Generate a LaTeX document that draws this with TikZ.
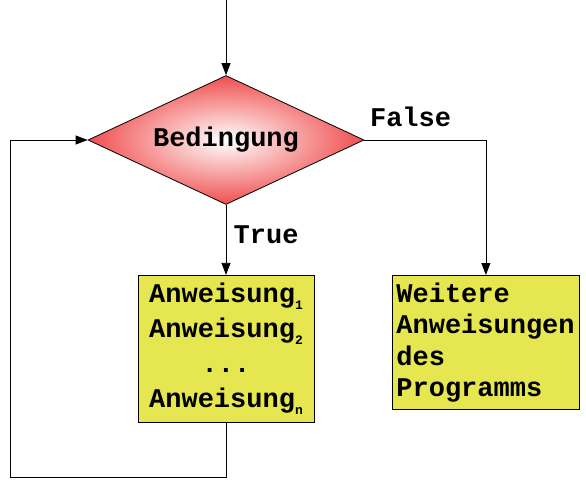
\documentclass[tikz,border=0pt]{standalone}
\usepackage{fontspec}
\setmonofont{Liberation Mono}
\usetikzlibrary{arrows.meta,positioning,shapes.geometric}
\definecolor{condred}{RGB}{240,78,78}
\definecolor{boxyellow}{RGB}{230,230,80}
\newcommand{\idx}[1]{\raisebox{-0.45ex}{\fontsize{13}{13}\selectfont #1}}

\begin{document}
\begin{tikzpicture}[
  x=1pt, y=-1pt,
  txt/.style={font=\ttfamily\bfseries\fontsize{27}{31.5}\selectfont},
  cond/.style={diamond, draw, line width=0.8pt, inner sep=0pt, aspect=2.14,
               minimum width=276pt, minimum height=129pt,
               shading=radial, inner color=white, outer color=condred, txt},
  stmt/.style={rectangle, draw, line width=0.8pt, fill=boxyellow, txt},
  arr/.style={-{Triangle[length=12pt, width=9pt]}, line width=0.8pt}
]
\useasboundingbox (0,0) rectangle (586,481);

\node[cond] (bed) at (226,140) {Bedingung};
\node[stmt, below=70pt of bed, minimum width=176pt, minimum height=147pt,
      align=center, font=\ttfamily\bfseries\fontsize{27}{35}\selectfont] (body)
  {Anweisung\idx{1}\\Anweisung\idx{2}\\...\\Anweisung\idx{n}};
\node[stmt, anchor=north west, minimum width=187pt, minimum height=134pt,
      text width=179pt, inner xsep=4pt, align=left] (rest) at (392,275)
  {Weitere\\Anweisungen\\des\\Programms};

\coordinate (entry) at (226,0);
\coordinate (back) at (10,477);

\draw[arr] (entry) -- (bed.north);
\draw[arr] (bed.south) -- node[right=4pt, txt, pos=0.42] {True} (body.north);
\draw[arr] (bed.east) -| node[above=10pt, txt, pos=0.19] {False} (rest.north);
\draw[arr] (body.south) |- (back) |- (bed.west);
\end{tikzpicture}
\end{document}
